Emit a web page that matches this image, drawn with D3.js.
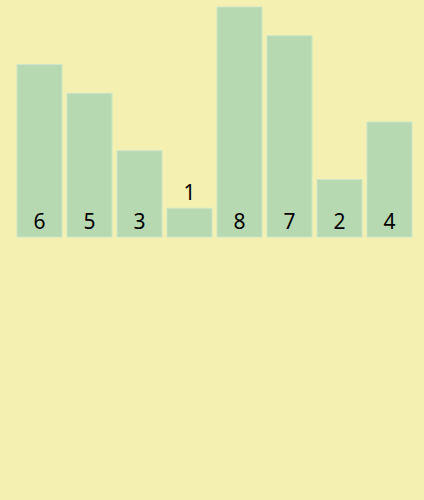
<!DOCTYPE html>
<html>
<head>
<meta charset="utf-8">
<script src="https://cdn.jsdelivr.net/npm/d3@7/dist/d3.min.js"></script>
<style>
  html, body { margin: 0; padding: 0; background: #f3f0b2; }
  svg { display: block; }
</style>
</head>
<body>
<script>
const values = [6, 5, 3, 1, 8, 7, 2, 4];
const labels = values.map(String);

const W = 424, H = 500;
const svg = d3.select("body").append("svg").attr("width", W).attr("height", H);

svg.append("rect").attr("width", W).attr("height", H).attr("fill", "#f3f0b2");

const x = d3.scaleBand().domain(d3.range(values.length)).range([17, 412]).paddingInner(0.1).paddingOuter(0);
const y = d3.scaleLinear().domain([0, 8]).range([237, 7]);

svg.selectAll("rect.bar").data(values).join("rect")
  .attr("class", "bar")
  .attr("x", (d, i) => x(i))
  .attr("y", d => y(d))
  .attr("width", x.bandwidth())
  .attr("height", d => y(0) - y(d))
  .attr("fill", "#b7d9b2")
  .attr("stroke", "#cde5c8")
  .attr("stroke-width", 1);

svg.selectAll("text.lbl").data(values).join("text")
  .attr("class", "lbl")
  .attr("x", (d, i) => x(i) + x.bandwidth() / 2)
  .attr("y", d => (y(0) - y(d) < 30 ? y(d) - 8 : y(0) - 8))
  .attr("text-anchor", "middle")
  .attr("font-family", "'Noto Sans', 'Open Sans', sans-serif")
  .attr("font-size", 21)
  .attr("fill", "#000")
  .text((d, i) => labels[i]);
</script>
</body>
</html>
